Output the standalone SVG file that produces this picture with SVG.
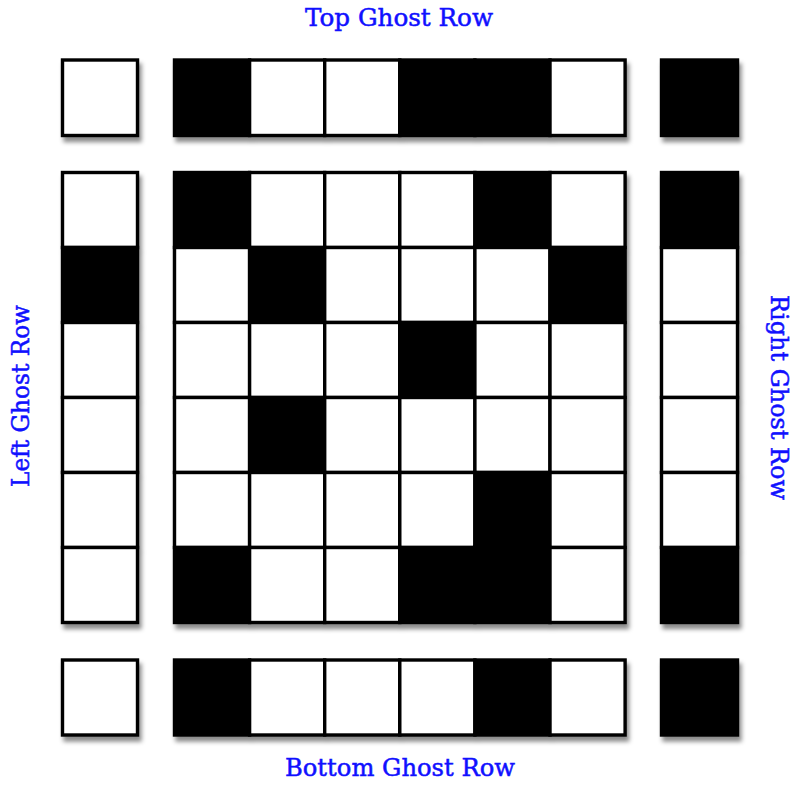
<svg xmlns="http://www.w3.org/2000/svg" width="800" height="785" viewBox="0 0 800 785">
<defs>
<filter id="sh" x="-10%" y="-10%" width="130%" height="130%">
<feDropShadow dx="2.5" dy="5" stdDeviation="2.2" flood-color="#000" flood-opacity="0.45"/>
</filter>
</defs>
<style>
.w{fill:#fff;stroke:#000;stroke-width:3.4}
.b{fill:#000;stroke:#000;stroke-width:3.4}
.lbl{font-family:"DejaVu Serif","Liberation Serif",serif;font-size:24px;fill:#1010ff;stroke:#1010ff;stroke-width:0.5}
</style>
<rect width="800" height="785" fill="#fff"/>
<g id="top-left-corner" filter="url(#sh)"><rect class="w" x="62.5" y="60" width="75" height="75.5"/></g>
<g id="top-ghost-row" filter="url(#sh)">
<rect class="b" x="174.5" y="60" width="75.1" height="75.5"/>
<rect class="w" x="249.6" y="60" width="75.1" height="75.5"/>
<rect class="w" x="324.7" y="60" width="75.1" height="75.5"/>
<rect class="b" x="399.8" y="60" width="75.1" height="75.5"/>
<rect class="b" x="474.9" y="60" width="75.1" height="75.5"/>
<rect class="w" x="550" y="60" width="75.1" height="75.5"/>
</g>
<g id="top-right-corner" filter="url(#sh)"><rect class="b" x="661.5" y="60" width="76" height="75.5"/></g>
<g id="left-ghost-column" filter="url(#sh)">
<rect class="w" x="62.5" y="172.5" width="75" height="75"/>
<rect class="b" x="62.5" y="247.5" width="75" height="75"/>
<rect class="w" x="62.5" y="322.5" width="75" height="75"/>
<rect class="w" x="62.5" y="397.5" width="75" height="75"/>
<rect class="w" x="62.5" y="472.5" width="75" height="75"/>
<rect class="w" x="62.5" y="547.5" width="75" height="75"/>
</g>
<g id="main-grid" filter="url(#sh)">
<rect class="b" x="174.5" y="172.5" width="75.1" height="75"/>
<rect class="w" x="249.6" y="172.5" width="75.1" height="75"/>
<rect class="w" x="324.7" y="172.5" width="75.1" height="75"/>
<rect class="w" x="399.8" y="172.5" width="75.1" height="75"/>
<rect class="b" x="474.9" y="172.5" width="75.1" height="75"/>
<rect class="w" x="550" y="172.5" width="75.1" height="75"/>
<rect class="w" x="174.5" y="247.5" width="75.1" height="75"/>
<rect class="b" x="249.6" y="247.5" width="75.1" height="75"/>
<rect class="w" x="324.7" y="247.5" width="75.1" height="75"/>
<rect class="w" x="399.8" y="247.5" width="75.1" height="75"/>
<rect class="w" x="474.9" y="247.5" width="75.1" height="75"/>
<rect class="b" x="550" y="247.5" width="75.1" height="75"/>
<rect class="w" x="174.5" y="322.5" width="75.1" height="75"/>
<rect class="w" x="249.6" y="322.5" width="75.1" height="75"/>
<rect class="w" x="324.7" y="322.5" width="75.1" height="75"/>
<rect class="b" x="399.8" y="322.5" width="75.1" height="75"/>
<rect class="w" x="474.9" y="322.5" width="75.1" height="75"/>
<rect class="w" x="550" y="322.5" width="75.1" height="75"/>
<rect class="w" x="174.5" y="397.5" width="75.1" height="75"/>
<rect class="b" x="249.6" y="397.5" width="75.1" height="75"/>
<rect class="w" x="324.7" y="397.5" width="75.1" height="75"/>
<rect class="w" x="399.8" y="397.5" width="75.1" height="75"/>
<rect class="w" x="474.9" y="397.5" width="75.1" height="75"/>
<rect class="w" x="550" y="397.5" width="75.1" height="75"/>
<rect class="w" x="174.5" y="472.5" width="75.1" height="75"/>
<rect class="w" x="249.6" y="472.5" width="75.1" height="75"/>
<rect class="w" x="324.7" y="472.5" width="75.1" height="75"/>
<rect class="w" x="399.8" y="472.5" width="75.1" height="75"/>
<rect class="b" x="474.9" y="472.5" width="75.1" height="75"/>
<rect class="w" x="550" y="472.5" width="75.1" height="75"/>
<rect class="b" x="174.5" y="547.5" width="75.1" height="75"/>
<rect class="w" x="249.6" y="547.5" width="75.1" height="75"/>
<rect class="w" x="324.7" y="547.5" width="75.1" height="75"/>
<rect class="b" x="399.8" y="547.5" width="75.1" height="75"/>
<rect class="b" x="474.9" y="547.5" width="75.1" height="75"/>
<rect class="w" x="550" y="547.5" width="75.1" height="75"/>
</g>
<g id="right-ghost-column" filter="url(#sh)">
<rect class="b" x="661.5" y="172.5" width="76" height="75"/>
<rect class="w" x="661.5" y="247.5" width="76" height="75"/>
<rect class="w" x="661.5" y="322.5" width="76" height="75"/>
<rect class="w" x="661.5" y="397.5" width="76" height="75"/>
<rect class="w" x="661.5" y="472.5" width="76" height="75"/>
<rect class="b" x="661.5" y="547.5" width="76" height="75"/>
</g>
<g id="bottom-left-corner" filter="url(#sh)"><rect class="w" x="62.5" y="660" width="75" height="75"/></g>
<g id="bottom-ghost-row" filter="url(#sh)">
<rect class="b" x="174.5" y="660" width="75.1" height="75"/>
<rect class="w" x="249.6" y="660" width="75.1" height="75"/>
<rect class="w" x="324.7" y="660" width="75.1" height="75"/>
<rect class="w" x="399.8" y="660" width="75.1" height="75"/>
<rect class="b" x="474.9" y="660" width="75.1" height="75"/>
<rect class="w" x="550" y="660" width="75.1" height="75"/>
</g>
<g id="bottom-right-corner" filter="url(#sh)"><rect class="b" x="661.5" y="660" width="76" height="75"/></g>
<g id="labels">
<text class="lbl" x="305" y="25.5" textLength="188" lengthAdjust="spacingAndGlyphs">Top Ghost Row</text>
<text class="lbl" x="285" y="775.5" textLength="230" lengthAdjust="spacingAndGlyphs">Bottom Ghost Row</text>
<text class="lbl" transform="translate(29,487) rotate(-90)" textLength="182" lengthAdjust="spacingAndGlyphs">Left Ghost Row</text>
<text class="lbl" transform="translate(770.5,295) rotate(90)" textLength="205" lengthAdjust="spacingAndGlyphs">Right Ghost Row</text>
</g>
</svg>
